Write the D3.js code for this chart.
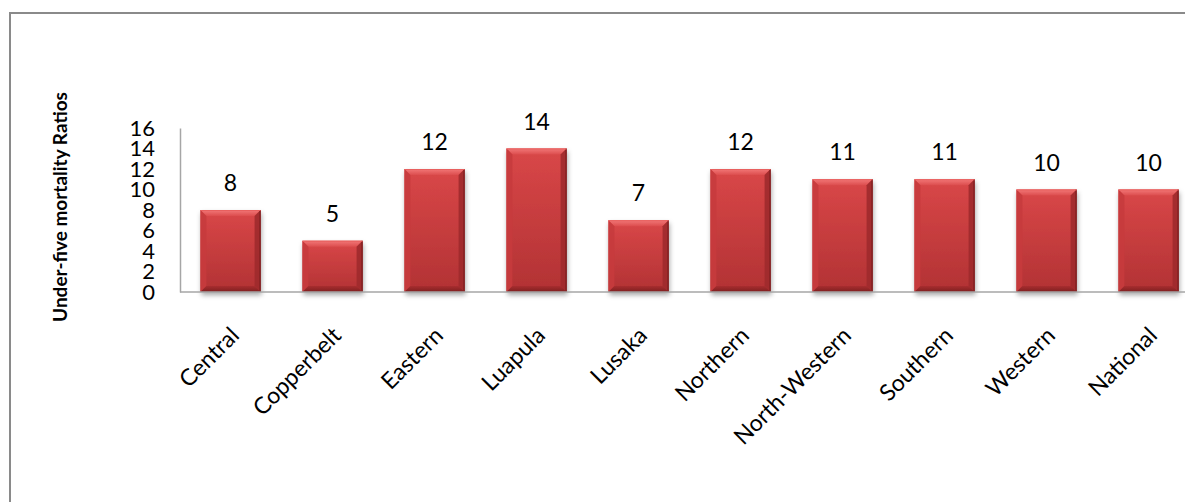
<!DOCTYPE html>
<html>
<head>
<meta charset="utf-8">
<script src="https://cdn.jsdelivr.net/npm/d3@7"></script>
<style>
  html, body { margin: 0; padding: 0; background: #fff; }
  svg { display: block; }
  text { font-family: Lato, "Open Sans", sans-serif; }
</style>
</head>
<body>
<svg id="chart" width="1185" height="502"></svg>
<script>
const categories = ["Central", "Copperbelt", "Eastern", "Luapula", "Lusaka", "Northern", "North-Western", "Southern", "Western", "National"];
const values = [8, 5, 12, 14, 7, 12, 11, 11, 10, 10];
const yTicks = [0, 2, 4, 6, 8, 10, 12, 14, 16];
const yTitle = "Under-five mortality Ratios";

const svg = d3.select("#chart");

// outer chart border
svg.append("rect")
  .attr("x", 10).attr("y", 13)
  .attr("width", 1185).attr("height", 500)
  .attr("fill", "none").attr("stroke", "#8a8a8a").attr("stroke-width", 2);

const x = d3.scaleBand()
  .domain(categories)
  .range([179.5, 1199.5])
  .paddingInner(0.41)
  .paddingOuter(0.205);

const y = d3.scaleLinear().domain([0, 16]).range([292, 128]);

const defs = svg.append("defs");
const g1 = defs.append("linearGradient").attr("id", "barFill").attr("x1", 0).attr("y1", 0).attr("x2", 0).attr("y2", 1);
g1.append("stop").attr("offset", "0%").attr("stop-color", "#d94748");
g1.append("stop").attr("offset", "100%").attr("stop-color", "#b23234");
const g2 = defs.append("linearGradient").attr("id", "topBevel").attr("x1", 0).attr("y1", 0).attr("x2", 0).attr("y2", 1);
g2.append("stop").attr("offset", "0%").attr("stop-color", "#f27878");
g2.append("stop").attr("offset", "100%").attr("stop-color", "#dc4d4e");
const g3 = defs.append("linearGradient").attr("id", "botBevel").attr("x1", 0).attr("y1", 0).attr("x2", 0).attr("y2", 1);
g3.append("stop").attr("offset", "0%").attr("stop-color", "#a82d2f");
g3.append("stop").attr("offset", "100%").attr("stop-color", "#7e1f20");
const sh = defs.append("filter").attr("id", "shadow").attr("x", "-20%").attr("y", "-20%").attr("width", "140%").attr("height", "140%");
sh.append("feDropShadow").attr("dx", 1).attr("dy", 3).attr("stdDeviation", 2.5).attr("flood-color", "#000").attr("flood-opacity", 0.35);

// y axis
const yAxis = d3.axisLeft(y).tickValues(yTicks).tickSize(0).tickPadding(0);
const yg = svg.append("g").attr("transform", "translate(180,0)").call(yAxis);
yg.select(".domain").attr("stroke", "#a6a6a6").attr("stroke-width", 1.5);
yg.selectAll(".tick text")
  .attr("x", -25)
  .attr("font-size", 22)
  .attr("fill", "#000")
  .attr("text-anchor", "end");

// bars
const b = 6;
const bars = svg.append("g");
values.forEach((v, i) => {
  const c = categories[i];
  const x0 = x(c), x1 = x(c) + x.bandwidth();
  const y0 = y(v), y1 = y(0);
  const gg = bars.append("g");
  gg.append("rect")
    .attr("x", x0).attr("y", y0)
    .attr("width", x1 - x0).attr("height", y1 - y0)
    .attr("fill", "url(#barFill)")
    .attr("filter", "url(#shadow)");
  gg.append("polygon")
    .attr("points", [[x0, y0], [x1, y0], [x1 - b, y0 + b], [x0 + b, y0 + b]].join(" "))
    .attr("fill", "url(#topBevel)");
  gg.append("polygon")
    .attr("points", [[x0, y0], [x0 + b, y0 + b], [x0 + b, y1 - b], [x0, y1]].join(" "))
    .attr("fill", "#c73b3d").attr("opacity", 0.9);
  gg.append("polygon")
    .attr("points", [[x1, y0], [x1, y1], [x1 - b, y1 - b], [x1 - b, y0 + b]].join(" "))
    .attr("fill", "#9e2a2c").attr("opacity", 0.9);
  gg.append("polygon")
    .attr("points", [[x0, y1], [x1, y1], [x1 - b, y1 - b], [x0 + b, y1 - b]].join(" "))
    .attr("fill", "url(#botBevel)");
  gg.append("line").attr("x1", x1 - 0.5).attr("x2", x1 - 0.5).attr("y1", y0).attr("y2", y1)
    .attr("stroke", "#6e1819").attr("stroke-width", 1);
  gg.append("line").attr("x1", x0).attr("x2", x1).attr("y1", y0 + 0.5).attr("y2", y0 + 0.5)
    .attr("stroke", "#e8605f").attr("stroke-width", 1);
});

// x baseline
const xAxis = d3.axisBottom(x).tickSize(0).tickFormat("");
const xg = svg.append("g").attr("transform", `translate(0,${y(0)})`).call(xAxis);
xg.select(".domain").attr("stroke", "#a6a6a6").attr("stroke-width", 1.5)
  .attr("d", `M180,0H1185`);

// value labels
svg.append("g").selectAll("text")
  .data(values)
  .join("text")
  .attr("x", (d, i) => x(categories[i]) + x.bandwidth() / 2)
  .attr("y", d => y(d) - 19)
  .attr("text-anchor", "middle")
  .attr("font-size", 23)
  .attr("fill", "#000")
  .text(d => d);

// category labels rotated
svg.append("g").selectAll("text")
  .data(categories)
  .join("text")
  .attr("transform", d => `translate(${x(d) + x.bandwidth() / 2 + 10},${y(0) + 45}) rotate(-45)`)
  .attr("text-anchor", "end")
  .attr("font-size", 23)
  .attr("fill", "#000")
  .text(d => d);

// y title
svg.append("text")
  .attr("transform", `translate(67,${(y(0) + y(16)) / 2 - 3}) rotate(-90)`)
  .attr("text-anchor", "middle")
  .attr("font-size", 19)
  .attr("font-weight", "bold")
  .attr("fill", "#000")
  .text(yTitle);
</script>
</body>
</html>
